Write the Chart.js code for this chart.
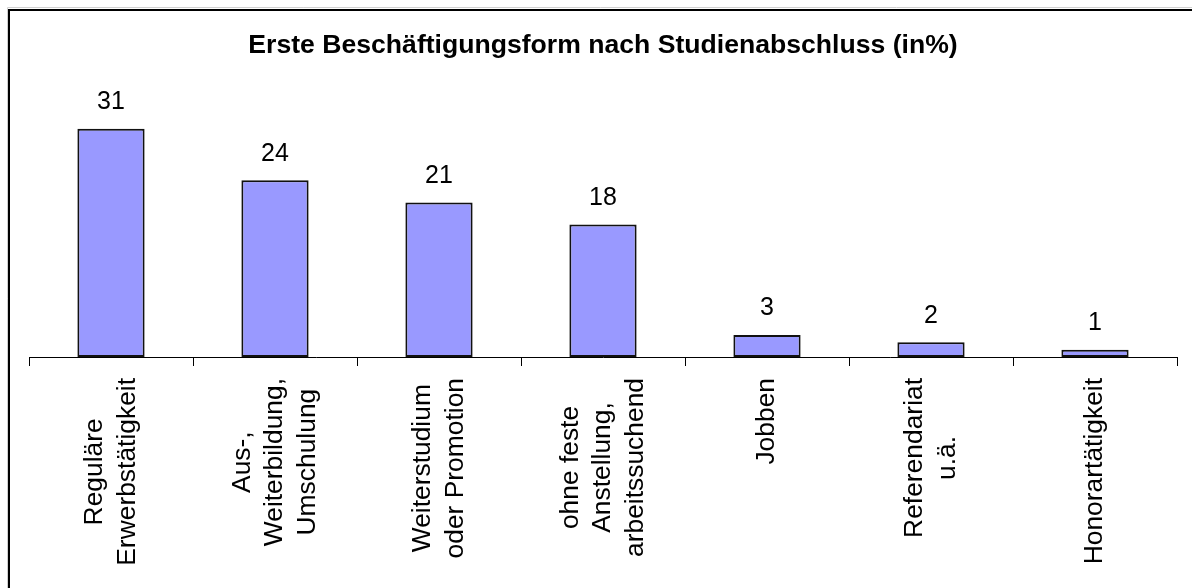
<!DOCTYPE html>
<html><head><meta charset="utf-8">
<script src="https://cdn.jsdelivr.net/npm/chart.js@4"></script>
<style>html,body{margin:0;padding:0;background:#fff}#wrap{width:1192px;height:588px;position:relative}</style>
</head><body><div id="wrap"><canvas id="c" width="1192" height="588"></canvas></div>
<script>
const chartTitle = 'Erste Beschäftigungsform nach Studienabschluss (in%)';
const categories = [
  ['Reguläre', 'Erwerbstätigkeit'],
  ['Aus-,', 'Weiterbildung,', 'Umschulung'],
  ['Weiterstudium', 'oder Promotion'],
  ['ohne feste', 'Anstellung,', 'arbeitssuchend'],
  ['Jobben'],
  ['Referendariat', 'u.ä.'],
  ['Honorartätigkeit']
];
const values = [31, 24, 21, 18, 3, 2, 1];

const FONT = "'Liberation Sans', Arial, sans-serif";
const LABEL_SIZE = 26.4;
const VALUE_SIZE = 25;
const LABEL_LINE = 32.5;

const framePlugin = {
  id: 'frame',
  beforeDraw(chart) {
    const ctx = chart.ctx;
    ctx.save();
    ctx.fillStyle = '#fff';
    ctx.fillRect(0, 0, chart.width, chart.height);
    ctx.strokeStyle = '#d0d0d0';
    ctx.lineWidth = 1;
    ctx.beginPath();
    ctx.moveTo(7.5, chart.height + 5); ctx.lineTo(7.5, 7.5); ctx.lineTo(chart.width + 5, 7.5);
    ctx.stroke();
    ctx.strokeStyle = '#000';
    ctx.lineWidth = 2;
    ctx.beginPath();
    ctx.moveTo(9, chart.height + 5); ctx.lineTo(9, 10); ctx.lineTo(chart.width + 5, 10);
    ctx.stroke();
    ctx.restore();
  }
};

const valueLabels = {
  id: 'valueLabels',
  afterDatasetsDraw(chart) {
    const ctx = chart.ctx;
    const meta = chart.getDatasetMeta(0);
    ctx.save();
    ctx.font = VALUE_SIZE + 'px ' + FONT;
    ctx.fillStyle = '#000';
    ctx.textAlign = 'center';
    ctx.textBaseline = 'middle';
    meta.data.forEach((bar, i) => {
      ctx.fillText(String(values[i]), bar.x, bar.y - 26.5);
    });
    ctx.restore();
  }
};

const categoryLabels = {
  id: 'categoryLabels',
  afterDraw(chart) {
    const ctx = chart.ctx;
    const xs = chart.scales.x;
    ctx.save();
    ctx.font = LABEL_SIZE + 'px ' + FONT;
    ctx.fillStyle = '#000';
    ctx.textAlign = 'center';
    ctx.textBaseline = 'middle';
    const top = xs.top + 21;
    categories.forEach((lines, i) => {
      const cx = xs.getPixelForTick(i);
      const maxW = Math.max(...lines.map(l => ctx.measureText(l).width));
      const cy = top + maxW / 2;
      lines.forEach((line, j) => {
        const lx = cx + (j - (lines.length - 1) / 2) * LABEL_LINE;
        ctx.save();
        ctx.translate(lx, cy);
        ctx.rotate(-Math.PI / 2);
        ctx.fillText(line, 0, 0);
        ctx.restore();
      });
    });
    ctx.restore();
  }
};

new Chart(document.getElementById('c'), {
  type: 'bar',
  data: {
    labels: categories,
    datasets: [{
      data: values,
      backgroundColor: '#9999FF',
      borderColor: '#111',
      borderWidth: 2,
      borderSkipped: false,
      barPercentage: 0.41,
      categoryPercentage: 1
    }]
  },
  options: {
    responsive: false,
    animation: false,
    devicePixelRatio: 1,
    layout: { padding: { left: 29, right: 15, top: 10, bottom: 0 } },
    plugins: {
      legend: { display: false },
      tooltip: { enabled: false },
      title: {
        display: true,
        text: chartTitle,
        color: '#000',
        font: { family: FONT, size: 26.6, weight: 'bold' },
        padding: { top: 20, bottom: 37.5 }
      }
    },
    scales: {
      x: {
        grid: { offset: true, drawOnChartArea: false, drawTicks: true, tickLength: 9, color: '#000', lineWidth: 1 },
        border: { display: true, color: '#000', width: 1 },
        ticks: { display: false },
        afterFit(s) { s.height = 231; }
      },
      y: { display: false, min: 0, max: 35 }
    }
  },
  plugins: [framePlugin, valueLabels, categoryLabels]
});
</script></body></html>
